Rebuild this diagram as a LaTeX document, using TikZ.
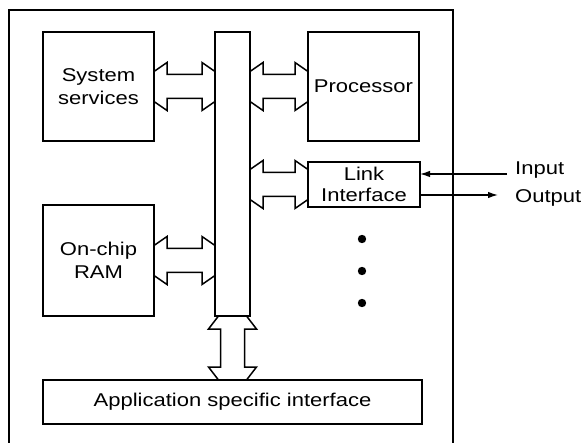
\documentclass[tikz,border=0pt]{standalone}
\usepackage{fontspec}
\setmainfont{Liberation Sans}[FakeStretch=1.19]
\usetikzlibrary{positioning,calc,arrows.meta}
\tikzset{>={Latex[length=10pt,width=6.5pt]}}

\begin{document}
\begin{tikzpicture}[x=1pt,y=-1pt,%
                    font=\fontsize{18.5}{22.7}\selectfont,
                    box/.style={draw,line width=1.4pt,inner sep=0,outer sep=0,align=center},
                    hbus/.style={line width=1.5pt,to path={let \p1=(\tikztostart), \p2=(\tikztotarget) in
                        (\x1,\y1+15pt) -- (\x1+13pt,\y1+24pt) -- (\x1+13pt,\y1+12pt) -- (\x2-13pt,\y1+12pt)
                        -- (\x2-13pt,\y1+24pt) -- (\x2,\y1+15pt) -- (\x2,\y1-15pt) -- (\x2-13pt,\y1-24pt)
                        -- (\x2-13pt,\y1-12pt) -- (\x1+13pt,\y1-12pt) -- (\x1+13pt,\y1-24pt) -- (\x1,\y1-15pt) -- cycle}},
                    vbus/.style={line width=1.5pt,to path={let \p1=(\tikztostart), \p2=(\tikztotarget) in
                        (\x1+14pt,\y1) -- (\x1+24pt,\y1-13pt) -- (\x1+12pt,\y1-13pt) -- (\x1+12pt,\y2+13pt)
                        -- (\x1+24pt,\y2+13pt) -- (\x1+14pt,\y2) -- (\x1-14pt,\y2) -- (\x1-24pt,\y2+13pt)
                        -- (\x1-12pt,\y2+13pt) -- (\x1-12pt,\y1-13pt) -- (\x1-24pt,\y1-13pt) -- (\x1-14pt,\y1) -- cycle}},
        ]
        \useasboundingbox (0,0) rectangle (583,443);
        \draw[line width=1.1pt] (9,443) -- (9,10) -- (453,10) -- (453,443);
%
        \node[box,minimum width=111pt,minimum height=109pt,anchor=north west] (sys) at (43,32) {System\\services};
        \node[box,minimum width=35pt,minimum height=284pt,right=61pt of sys.north east,anchor=north west] (bus) {};
        \node[box,minimum width=111pt,minimum height=109pt,right=58pt of bus.north east,anchor=north west] (pro) {Processor};
        \node[box,minimum width=112pt,minimum height=45pt,below=21pt of pro.south west,anchor=north west,
              font=\fontsize{18.5}{21.7}\selectfont] (lnk) {Link\\Interface};
        \node[box,minimum width=111pt,minimum height=111pt,below=64pt of sys.south west,anchor=north west] (ram) {On-chip\\RAM};
        \node[box,minimum width=379pt,minimum height=44pt,below=64pt of ram.south west,anchor=north west] (asi) {Application specific interface};
%
        \draw[hbus] (sys.east) to (sys.east -| bus.west);
        \draw[hbus] (bus.east |- pro.west) to (pro.west);
        \draw[hbus] (bus.east |- lnk.west) to (lnk.west);
        \draw[hbus] (ram.east) to (ram.east -| bus.west);
        \draw[vbus] (bus.south) to (bus.south |- asi.north);
%
        \coordinate (in) at (507,174);
        \coordinate (out) at (498,195);
        \node[anchor=base west,inner sep=0] (inp) at (515,175) {Input};
        \node[anchor=base west,inner sep=0] (outp) at (515,203) {Output};
        \draw[->,line width=1.3pt] (in) -- (in -| lnk.east);
        \draw[->,line width=1.3pt] (out -| lnk.east) -- (out);
%
        \foreach \y in {239,271,303}
            \fill (362,\y) circle (4.2pt);
    \end{tikzpicture}
\end{document}
